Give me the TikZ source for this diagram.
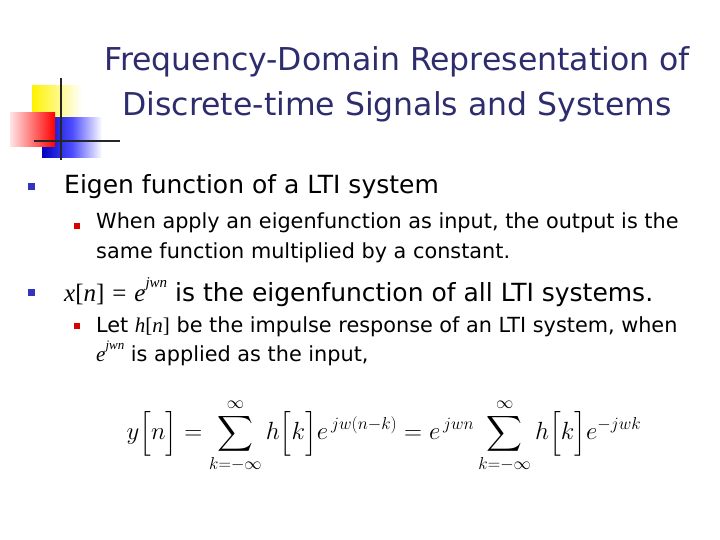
\documentclass[tikz,border=0pt]{standalone}
\usepackage{fontspec}
\setmainfont{DejaVu Sans}
\newfontfamily\tms{Liberation Serif}
\usepackage{amsmath}
\definecolor{ttl}{RGB}{45,45,110}
\begin{document}
\begin{tikzpicture}[x=1pt,y=-1pt,
  txt/.style={anchor=west,inner sep=0pt,align=left},
  bl/.style={fill=blue!70!black!80,minimum size=7pt,inner sep=0pt},
  rb/.style={fill=red!85!black,minimum size=6pt,inner sep=0pt}]
\useasboundingbox (0,0) rectangle (720,540);
\fill[white] (0,0) rectangle (720,540);
% logo
\shade[left color=yellow!90!orange,right color=white] (32,86) rectangle (82,132);
\shade[left color=blue!75!black,right color=white,middle color=blue!70] (42,118) rectangle (102,158);
\shade[left color=red!10,right color=red] (10,113) rectangle (55,147);
\draw[line width=2pt,black!85] (61,78) -- (61,160);
\draw[line width=2pt,black!85] (34,141) -- (120,141);
% title
\node[inner sep=0pt,align=center,font=\fontsize{31.5}{45}\selectfont,text=ttl] (title) at (397,84)
 {Frequency-Domain Representation of\\Discrete-time Signals and Systems};
% bullets
\node[bl] (b1) at (31,187) {};
\node[txt,font=\fontsize{25}{28}\selectfont] (t1) at (64,187) {Eigen function of a LTI system};
\node[rb] (b2) at (77,226) {};
\node[txt,font=\fontsize{20.8}{29.5}\selectfont] (t2) at (96,238) {When apply an eigenfunction as input, the output is the\\same function multiplied by a constant.};
\node[bl] (b3) at (31,292) {};
\node[txt,font=\fontsize{25}{28}\selectfont] (t3) at (64,292) {{\tms\fontsize{25}{28}\selectfont\itshape x}{\tms\fontsize{25}{28}\selectfont[}{\tms\fontsize{25}{28}\selectfont\itshape n}{\tms\fontsize{25}{28}\selectfont]} {\tms\fontsize{25}{28}\selectfont=} {\tms\fontsize{25}{28}\selectfont\itshape e}\raisebox{1ex}{\fontsize{15}{15}\selectfont\tms\itshape jwn} is the eigenfunction of all LTI systems.};
\node[rb] (b4) at (77,326) {};
\node[txt,font=\fontsize{20.8}{29}\selectfont] (t4) at (96,341) {Let {\tms\fontsize{21}{29}\selectfont\itshape h}{\tms\fontsize{21}{29}\selectfont[}{\tms\fontsize{21}{29}\selectfont\itshape n}{\tms\fontsize{21}{29}\selectfont]} be the impulse response of an LTI system, when\\{\tms\fontsize{21}{29}\selectfont\itshape e}\raisebox{1ex}{\fontsize{13}{13}\selectfont\tms\itshape jwn} is applied as the input,};
% equation
\node[inner sep=0pt,font=\fontsize{26}{30}\selectfont] (eq) at (384,436)
 {$y\Bigl[n\Bigr]= \displaystyle\sum_{k=-\infty}^{\infty} h\Bigl[k\Bigr]e^{\,jw\left(n-k\right)} = e^{\,jwn}\sum_{k=-\infty}^{\infty} h\Bigl[k\Bigr]e^{-jwk}$};
\end{tikzpicture}
\end{document}
